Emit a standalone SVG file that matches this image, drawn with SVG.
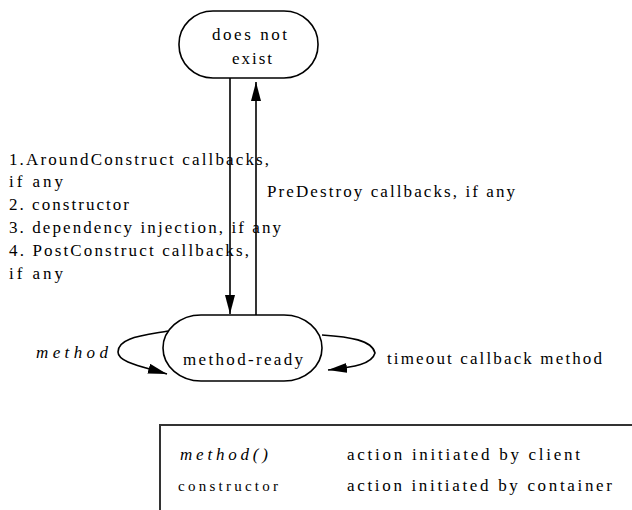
<svg xmlns="http://www.w3.org/2000/svg" width="632" height="510" viewBox="0 0 632 510" font-family="Liberation Serif, serif">
<style>
text{font-size:17px;fill:#000}
.it{font-style:italic}
.sm{font-size:15px}
.node{fill:#fff;stroke:#000;stroke-width:1.6}
.edge{fill:none;stroke:#000;stroke-width:1.6}
</style>
<defs>
<marker id="ah" markerUnits="userSpaceOnUse" markerWidth="20" markerHeight="12" refX="19" refY="5" orient="auto">
<path d="M0,0 L19,5 L0,10 z" fill="#000"/>
</marker>
</defs>
<rect x="0" y="0" width="632" height="510" fill="#fff"/>
<g id="connectors">
<path class="edge" d="M230 78 L230 314" marker-end="url(#ah)"/>
<path class="edge" d="M256 315 L256 82" marker-end="url(#ah)"/>
<path class="edge" d="M168 331 C140 336 118 338 118 352 C118 362 140 366 167 374" marker-end="url(#ah)"/>
<path class="edge" d="M322 335 C350 337 372 340 375 353 C372 364 355 367 328 370" marker-end="url(#ah)"/>
</g>
<g id="node-does-not-exist">
<rect class="node" x="179" y="11" width="139" height="67" rx="34" ry="33"/>
<text x="212" y="40" textLength="75" lengthAdjust="spacing">does not</text>
<text x="232" y="64" textLength="40" lengthAdjust="spacing">exist</text>
</g>
<g id="node-method-ready">
<rect class="node" x="163" y="315" width="159" height="66" rx="38" ry="33"/>
<text x="183" y="365" textLength="120" lengthAdjust="spacing">method-ready</text>
</g>
<g id="labels">
<text x="9" y="165" textLength="260" lengthAdjust="spacing">1.AroundConstruct callbacks,</text>
<text x="9" y="187" textLength="54" lengthAdjust="spacing">if any</text>
<text x="9" y="210" textLength="120" lengthAdjust="spacing">2. constructor</text>
<text x="9" y="233" textLength="272" lengthAdjust="spacing">3. dependency injection, if any</text>
<text x="9" y="256" textLength="240" lengthAdjust="spacing">4. PostConstruct callbacks,</text>
<text x="9" y="279" textLength="54" lengthAdjust="spacing">if any</text>
<text x="267" y="197" textLength="248" lengthAdjust="spacing">PreDestroy callbacks, if any</text>
<text class="it" x="36" y="358" textLength="72" lengthAdjust="spacing">method</text>
<text x="387" y="364" textLength="215" lengthAdjust="spacing">timeout callback method</text>
</g>
<g id="legend">
<rect x="160" y="425" width="480" height="100" fill="none" stroke="#333" stroke-width="2"/>
<text class="it" x="180" y="460" textLength="88" lengthAdjust="spacing">method()</text>
<text x="347" y="460" textLength="233" lengthAdjust="spacing">action initiated by client</text>
<text class="sm" x="178" y="491" textLength="100" lengthAdjust="spacing">constructor</text>
<text x="347" y="491" textLength="265" lengthAdjust="spacing">action initiated by container</text>
</g>
</svg>
